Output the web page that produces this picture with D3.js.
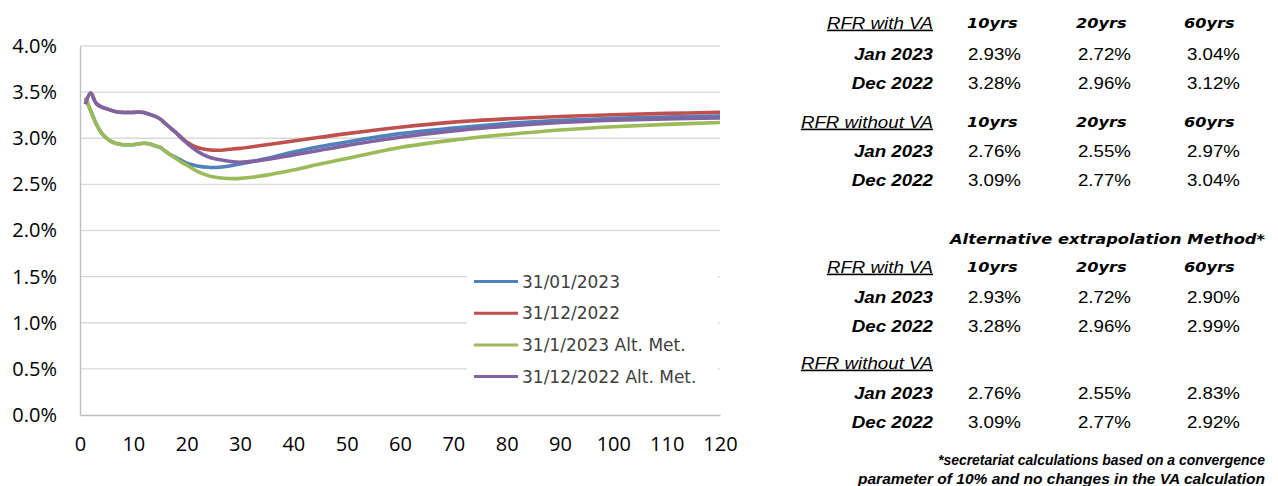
<!DOCTYPE html>
<html>
<head>
<meta charset="utf-8">
<script src="https://cdn.jsdelivr.net/npm/d3@7"></script>
<style>
  body { margin: 0; background: #fff; }
  svg { display: block; }
</style>
</head>
<body>
<svg id="chart" width="1278" height="486"></svg>
<script>
// maturities (years) and curves (values in %)
var maturities = [1,2,3,4,5,6,7,8,9,10,11,12,13,14,15,16,17,18,19,20,22,24,26,28,30,35,40,45,50,60,70,80,90,100,110,120];
var jan2023 = [3.44,3.30,3.16,3.06,3.00,2.96,2.94,2.93,2.93,2.93,2.94,2.945,2.94,2.92,2.90,2.86,2.82,2.79,2.76,2.73,2.70,2.685,2.685,2.70,2.72,2.78,2.85,2.91,2.96,3.05,3.11,3.16,3.195,3.215,3.23,3.24];
var dec2022 = [3.37,3.49,3.38,3.34,3.32,3.30,3.285,3.28,3.28,3.28,3.285,3.28,3.26,3.24,3.21,3.16,3.11,3.06,3.01,2.96,2.90,2.875,2.87,2.88,2.89,2.93,2.97,3.01,3.05,3.12,3.175,3.21,3.235,3.255,3.27,3.28];
var jan2023Alt = [3.44,3.30,3.16,3.06,3.00,2.96,2.94,2.93,2.93,2.93,2.94,2.945,2.94,2.92,2.90,2.86,2.82,2.78,2.74,2.71,2.64,2.595,2.572,2.563,2.565,2.60,2.655,2.72,2.78,2.90,2.98,3.04,3.09,3.125,3.15,3.17];
var dec2022Alt = [3.37,3.49,3.38,3.34,3.32,3.30,3.285,3.28,3.28,3.28,3.285,3.28,3.26,3.24,3.21,3.16,3.11,3.06,3.00,2.95,2.86,2.80,2.77,2.75,2.74,2.77,2.82,2.87,2.92,3.01,3.08,3.13,3.17,3.195,3.21,3.22];
var seriesNames = ["31/01/2023","31/12/2022","31/1/2023 Alt. Met.","31/12/2022 Alt. Met."];
var seriesColors = ["#4f81bd","#c0504d","#9bbb59","#8064a2"];

var xTicks = [0,10,20,30,40,50,60,70,80,90,100,110,120];
var yTicks = [0,0.5,1.0,1.5,2.0,2.5,3.0,3.5,4.0];

// table on the right
var tenors = ["10yrs","20yrs","60yrs"];
var rowLabels = ["Jan 2023","Dec 2022"];
var withVA = [[2.93,2.72,3.04],[3.28,2.96,3.12]];
var withoutVA = [[2.76,2.55,2.97],[3.09,2.77,3.04]];
var altWithVA = [[2.93,2.72,2.90],[3.28,2.96,2.99]];
var altWithoutVA = [[2.76,2.55,2.83],[3.09,2.77,2.92]];

var svg = d3.select("#chart");

var x = d3.scaleLinear().domain([0,120]).range([80,720]);
var y = d3.scaleLinear().domain([0,4]).range([415,46]);

// gridlines
svg.append("g").selectAll("line").data(yTicks.slice(1)).enter().append("line")
  .attr("x1", 80).attr("x2", 720)
  .attr("y1", function(d){return y(d);}).attr("y2", function(d){return y(d);})
  .attr("stroke", "#d9d9d9").attr("stroke-width", 1.4);

// axes
var yAxis = d3.axisLeft(y).tickValues(yTicks).tickSize(0).tickPadding(23)
  .tickFormat(function(d){return d.toFixed(1) + "%";});
var gy = svg.append("g").attr("transform", "translate(80,0)").call(yAxis);
var xAxis = d3.axisBottom(x).tickValues(xTicks).tickSize(0).tickPadding(22);
var gx = svg.append("g").attr("transform", "translate(0,415)").call(xAxis);
[gx, gy].forEach(function(g){
  g.select(".domain").attr("stroke", "#bfbfbf").attr("stroke-width", 1.4);
  g.selectAll("text").attr("font-family", "'Open Sans', sans-serif")
    .attr("font-size", 20).attr("fill", "#000");
});

// curves
var allSeries = [jan2023, dec2022, jan2023Alt, dec2022Alt];
var line = d3.line()
  .x(function(d, i){return x(maturities[i]);})
  .y(function(d){return y(d);})
  .curve(d3.curveCatmullRom.alpha(0.5));
svg.append("g").selectAll("path").data(allSeries).enter().append("path")
  .attr("d", line)
  .attr("fill", "none")
  .attr("stroke", function(d, i){return seriesColors[i];})
  .attr("stroke-width", 3.6)
  .attr("stroke-linejoin", "round");

// legend
var legend = svg.append("g");
legend.append("rect").attr("x", 467).attr("y", 264).attr("width", 251).attr("height", 131).attr("fill", "#fff");
var item = legend.selectAll("g.item").data(seriesNames).enter().append("g")
  .attr("transform", function(d, i){return "translate(0," + (281.5 + i*31.7) + ")";});
item.append("line").attr("x1", 474).attr("x2", 518)
  .attr("stroke", function(d, i){return seriesColors[i];}).attr("stroke-width", 3);
item.append("text").attr("x", 522).attr("y", 6)
  .attr("font-family", "'DejaVu Sans', sans-serif").attr("font-size", 17)
  .attr("fill", "#404040").text(function(d){return d;});

// table
var sx = 1.17;
function put(txt, px, py, anchor, style) {
  var t = svg.append("text")
    .attr("transform", "translate(" + px + "," + py + ") scale(" + sx + ",1)")
    .attr("text-anchor", anchor)
    .attr("font-family", style.family || "'Liberation Sans', Arial, sans-serif")
    .attr("font-size", style.size || 16)
    .attr("font-weight", style.weight || "normal")
    .attr("font-style", style.italic ? "italic" : "normal")
    .attr("fill", "#000")
    .text(txt);
  if (style.underline) t.attr("text-decoration", "underline");
  return t;
}
var colStart = [967, 1076, 1184];
var colEnd = [1021, 1131, 1240];
var labelEnd = 933;

function block(title, showTenors, rows, yTitle, yRows) {
  put(title, labelEnd, yTitle + 5.7, "end", {italic: true, underline: true});
  if (showTenors) {
    tenors.forEach(function(t, j){
      put(t, colStart[j], yTitle + 5.2, "start",
        {family: "'DejaVu Sans', sans-serif", size: 13.8, weight: "bold", italic: true});
    });
  }
  rows.forEach(function(r, i){
    put(rowLabels[i], labelEnd, yRows[i] + 5.7, "end", {weight: "bold", italic: true});
    r.forEach(function(v, j){
      put(v.toFixed(2) + "%", colEnd[j], yRows[i] + 5.7, "end", {});
    });
  });
}
block("RFR with VA", true, withVA, 23, [54, 83]);
block("RFR without VA", true, withoutVA, 122, [151, 180]);

svg.append("text").attr("x", 1265).attr("y", 244)
  .attr("text-anchor", "end")
  .attr("font-family", "'DejaVu Sans', sans-serif").attr("font-size", 13.5)
  .attr("font-weight", "bold").attr("font-style", "italic")
  .attr("textLength", 315).attr("lengthAdjust", "spacingAndGlyphs")
  .text("Alternative extrapolation Method*");

block("RFR with VA", true, altWithVA, 267, [297, 326]);
block("RFR without VA", false, altWithoutVA, 363, [393, 422]);

var notes = ["*secretariat calculations based on a convergence", "parameter of 10% and no changes in the VA calculation"];
var noteX = [938, 858];
notes.forEach(function(n, i){
  svg.append("text").attr("x", noteX[i]).attr("y", 465 + i*19)
    .attr("font-family", "'Liberation Sans', Arial, sans-serif").attr("font-size", 14)
    .attr("font-weight", "bold").attr("font-style", "italic")
    .attr("textLength", 1265 - noteX[i]).attr("lengthAdjust", "spacingAndGlyphs")
    .text(n);
});
</script>
</body>
</html>
